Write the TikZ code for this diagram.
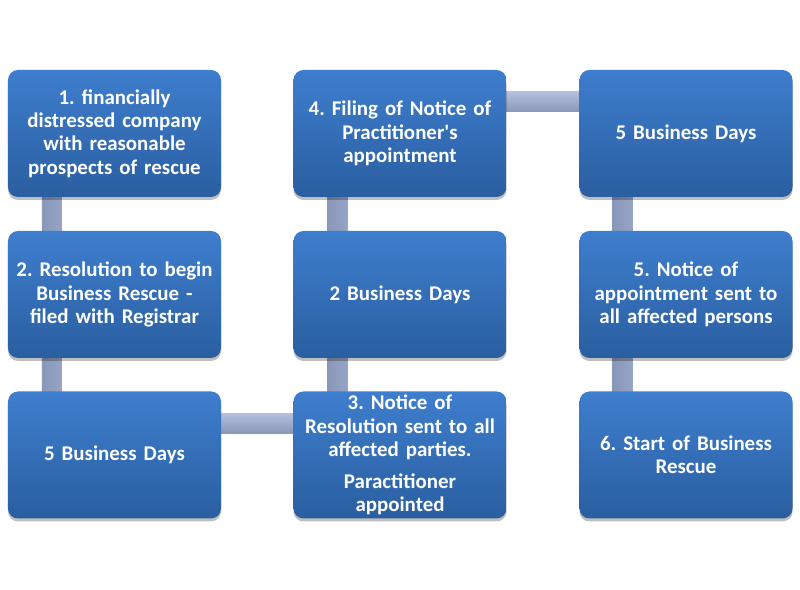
\documentclass[tikz,border=0pt]{standalone}
\usepackage{fontspec}
\setmainfont{Carlito}
\usetikzlibrary{shadows,backgrounds}
\definecolor{boxtop}{RGB}{62,126,206}
\definecolor{boxbot}{RGB}{42,94,160}
\definecolor{connA}{RGB}{136,151,184}
\definecolor{connB}{RGB}{180,192,222}
\definecolor{connM}{RGB}{150,165,198}
\tikzset{
  stepbox/.style={rectangle, rounded corners=10bp, minimum width=213bp, minimum height=127bp,
    inner sep=2bp, text width=209bp, align=center, text=white,
    font=\bfseries\fontsize{21}{23.5}\selectfont,
    top color=boxtop, bottom color=boxbot, draw=none,
    drop shadow={shadow xshift=0bp, shadow yshift=-3bp, opacity=0.25, fill=black}},
  vconn/.style={left color=connA, right color=connM, draw=none},
  hconn/.style={top color=connB, bottom color=connA, draw=none},
}
\frenchspacing
\begin{document}
\begin{tikzpicture}[x=1bp,y=1bp]
\useasboundingbox (0,0) rectangle (800,590);
% boxes
\node[stepbox] (b1) at (114.5,456.5) {1. financially\\distressed company\\with reasonable\\prospects of rescue};
\node[stepbox] (b2) at (114.5,295.5) {2. Resolution to begin\\Business Rescue -\\filed with Registrar};
\node[stepbox] (b3) at (114.5,135) {5 Business Days};
\node[stepbox] (b4) at (400,135) {3. Notice of\\Resolution sent to all\\affected parties.\\[8bp]Paractitioner\\appointed};
\node[stepbox] (b5) at (400,295.5) {2 Business Days};
\node[stepbox] (b6) at (400,456.5) {4. Filing of Notice of\\Practitioner\textquotesingle s\\appointment};
\node[stepbox] (b7) at (686,456.5) {5 Business Days};
\node[stepbox] (b8) at (686,295.5) {5. Notice of\\appointment sent to\\all affected persons};
\node[stepbox] (b9) at (686,135) {6. Start of Business\\Rescue};
% connectors behind the boxes
\begin{scope}[on background layer]
\path[vconn] ([xshift=34bp,yshift=5bp]b1.south west) rectangle ([xshift=54bp,yshift=-5bp]b2.north west);
\path[vconn] ([xshift=34bp,yshift=5bp]b2.south west) rectangle ([xshift=54bp,yshift=-5bp]b3.north west);
\path[hconn] ([xshift=-5bp,yshift=-22bp]b3.north east) rectangle ([xshift=5bp,yshift=-42bp]b4.north west);
\path[vconn] ([xshift=34bp,yshift=-5bp]b4.north west) rectangle ([xshift=54bp,yshift=5bp]b5.south west);
\path[vconn] ([xshift=34bp,yshift=-5bp]b5.north west) rectangle ([xshift=54bp,yshift=5bp]b6.south west);
\path[hconn] ([xshift=-5bp,yshift=-22bp]b6.north east) rectangle ([xshift=5bp,yshift=-42bp]b7.north west);
\path[vconn] ([xshift=33bp,yshift=5bp]b7.south west) rectangle ([xshift=53bp,yshift=-5bp]b8.north west);
\path[vconn] ([xshift=33bp,yshift=5bp]b8.south west) rectangle ([xshift=53bp,yshift=-5bp]b9.north west);
\end{scope}
\end{tikzpicture}
\end{document}
